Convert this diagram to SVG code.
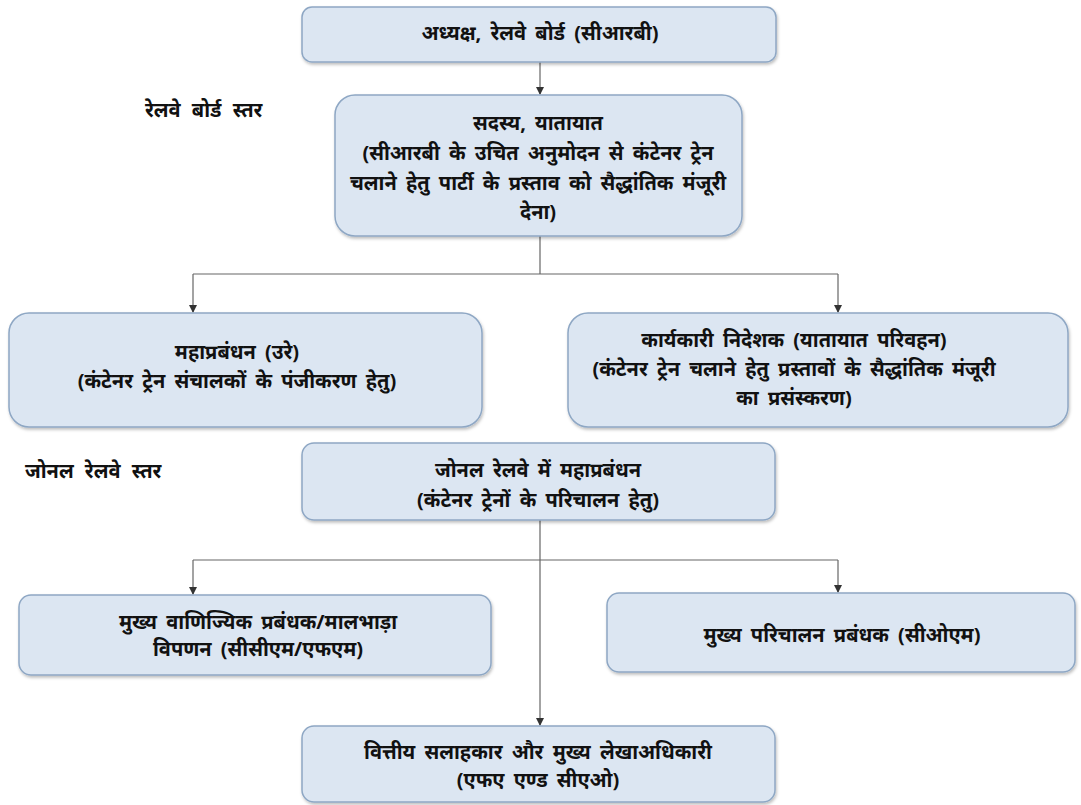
<svg xmlns="http://www.w3.org/2000/svg" width="1081" height="805" viewBox="0 0 1081 805">
<defs>
<marker id="arr" markerWidth="8" markerHeight="8" refX="7" refY="4" orient="auto" markerUnits="userSpaceOnUse">
<path d="M0,0 L8,4 L0,8 Z" fill="#333"/>
</marker>
<filter id="sh" x="-5%" y="-5%" width="110%" height="115%">
<feDropShadow dx="1" dy="2" stdDeviation="1.5" flood-color="#000" flood-opacity="0.25"/>
</filter>
</defs>
<style>
.box{fill:#dce6f2;stroke:#8ea7c4;stroke-width:1.5;filter:url(#sh)}
.t{font-family:"Noto Sans","Noto Sans Devanagari","Lohit Devanagari",sans-serif;font-size:20px;font-weight:bold;fill:#111;text-anchor:middle;word-spacing:4px}
.lbl{font-family:"Noto Sans","Noto Sans Devanagari","Lohit Devanagari",sans-serif;font-size:20px;font-weight:bold;fill:#111;word-spacing:6px}
.c{fill:none;stroke:#666;stroke-width:1.2}
</style>
<rect width="1081" height="805" fill="#fff"/>
<g id="connectors">
<path class="c" d="M540,62 V94" marker-end="url(#arr)"/>
<path class="c" d="M540,236 V274 M193,274 H838"/>
<path class="c" d="M193,274 V312" marker-end="url(#arr)"/>
<path class="c" d="M838,274 V312" marker-end="url(#arr)"/>
<path class="c" d="M540,520 V560 M193,560 H838"/>
<path class="c" d="M193,560 V594" marker-end="url(#arr)"/>
<path class="c" d="M838,560 V592" marker-end="url(#arr)"/>
<path class="c" d="M540,560 V725" marker-end="url(#arr)"/>
</g>
<g id="label-board"><text class="lbl" x="145" y="117">रेलवे बोर्ड स्तर</text></g>
<g id="label-zonal"><text class="lbl" x="25" y="478">जोनल रेलवे स्तर</text></g>
<g id="n1">
<rect class="box" x="302" y="7" width="474" height="55" rx="10"/>
<text class="t" x="540" y="40">अध्यक्ष, रेलवे बोर्ड (सीआरबी)</text>
</g>
<g id="n2">
<rect class="box" x="335" y="95" width="407" height="141" rx="20"/>
<text class="t" x="538" y="130">सदस्य, यातायात</text>
<text class="t" x="538" y="160">(सीआरबी के उचित अनुमोदन से कंटेनर ट्रेन</text>
<text class="t" x="538" y="190">चलाने हेतु पार्टी के प्रस्ताव को सैद्धांतिक मंजूरी</text>
<text class="t" x="538" y="219">देना)</text>
</g>
<g id="n3">
<rect class="box" x="9" y="313" width="473" height="114" rx="20"/>
<text class="t" x="237" y="359">महाप्रबंधन (उरे)</text>
<text class="t" x="237" y="388">(कंटेनर ट्रेन संचालकों के पंजीकरण हेतु)</text>
</g>
<g id="n4">
<rect class="box" x="568" y="313" width="500" height="114" rx="20"/>
<text class="t" x="794" y="347">कार्यकारी निदेशक (यातायात परिवहन)</text>
<text class="t" x="794" y="376">(कंटेनर ट्रेन चलाने हेतु प्रस्तावों के सैद्धांतिक मंजूरी</text>
<text class="t" x="794" y="405">का प्रसंस्करण)</text>
</g>
<g id="n5">
<rect class="box" x="302" y="443" width="473" height="77" rx="12"/>
<text class="t" x="538" y="477">जोनल रेलवे में महाप्रबंधन</text>
<text class="t" x="538" y="507">(कंटेनर ट्रेनों के परिचालन हेतु)</text>
</g>
<g id="n6">
<rect class="box" x="19" y="595" width="472" height="80" rx="12"/>
<text class="t" x="258" y="629">मुख्य वाणिज्यिक प्रबंधक/मालभाड़ा</text>
<text class="t" x="258" y="656">विपणन (सीसीएम/एफएम)</text>
</g>
<g id="n7">
<rect class="box" x="607" y="593" width="468" height="79" rx="12"/>
<text class="t" x="842" y="642">मुख्य परिचालन प्रबंधक (सीओएम)</text>
</g>
<g id="n8">
<rect class="box" x="302" y="726" width="473" height="76" rx="12"/>
<text class="t" x="538" y="759">वित्तीय सलाहकार और मुख्य लेखाअधिकारी</text>
<text class="t" x="538" y="787">(एफए एण्ड सीएओ)</text>
</g>
</svg>
